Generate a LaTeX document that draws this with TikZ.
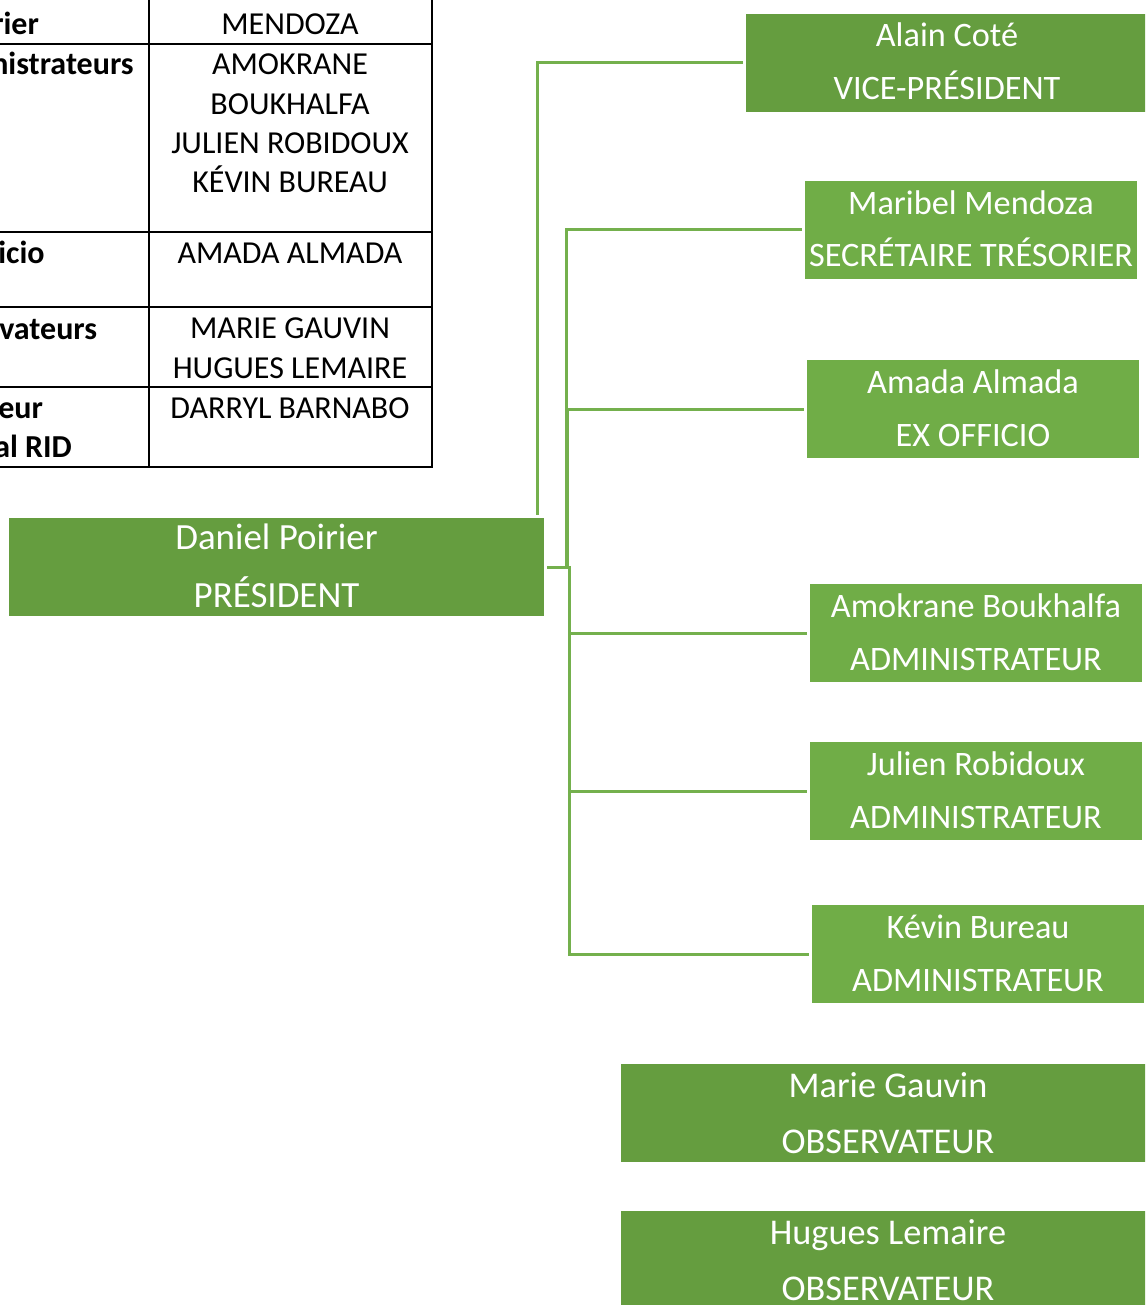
\documentclass[tikz,border=0pt]{standalone}
\usepackage{fontspec}
\setmainfont{Carlito}
\definecolor{boxdark}{RGB}{101,157,63}
\definecolor{boxlight}{RGB}{112,173,71}
\definecolor{linkgreen}{RGB}{116,176,77}
\newcommand{\tabfont}{\fontsize{24}{29.5}\selectfont}
\newcommand{\smallboxfont}{\fontsize{25.7}{39.75}\selectfont}
\newcommand{\bigboxfont}{\fontsize{27.2}{42}\selectfont}
\newcommand{\presfont}{\fontsize{27.7}{43.5}\selectfont}
\tikzset{
  orgbox/.style={fill=#1, text=white, inner sep=0pt, align=center,
    minimum height=73.5pt, text height=63pt, text depth=7.5pt},
  link/.style={draw=linkgreen, line width=2.25pt, shorten <=2.25pt, shorten >=2.25pt},
  tabline/.style={line width=1.5pt},
  cell/.style={font=\tabfont, inner sep=0pt, anchor=base, align=center},
  headcell/.style={font=\tabfont\bfseries, inner sep=0pt, anchor=base west}
}
\begin{document}
\begin{tikzpicture}[x=0.75pt,y=-0.75pt]
  \useasboundingbox (0,0) rectangle (1145,1305);
  \clip (0,0) rectangle (1145,1305);
  %Table of the board
  \draw[tabline] (149,-5) -- (149,467);
  \draw[tabline] (432,-5) -- (432,467);
  \foreach \y in {44,232,307,387,467} {
    \draw[tabline] (-5,\y) -- (433,\y);
  }
  %Left column (cut off at the page edge)
  \node[headcell] (h1) at (-8,35) {rier};
  \node[headcell] (h2) at (-9,75) {nistrateurs};
  \node[headcell] (h3) at (-2,263) {icio};
  \node[headcell] (h4) at (-1,339) {vateurs};
  \node[headcell] (h5) at (-2,418) {eur};
  \node[headcell] (h6) at (-6,457) {al RID};
  %Right column, anchored at the last line
  \node[cell] (c1) at (290,35) {MENDOZA};
  \node[cell] (c2) at (290,193) {AMOKRANE\\BOUKHALFA\\JULIEN ROBIDOUX\\KÉVIN BUREAU};
  \node[cell] (c3) at (290,263) {AMADA ALMADA};
  \node[cell] (c4) at (290,378) {MARIE GAUVIN\\HUGUES LEMAIRE};
  \node[cell] (c5) at (290,418) {DARRYL BARNABO};
  %President
  \node[orgbox=boxdark, minimum width=401.25pt, font=\presfont, text height=66pt, text depth=6pt] (dan) at (276.5,567) {Daniel Poirier\\PRÉSIDENT};
  %Vice-president
  \node[orgbox=boxdark, minimum width=301.5pt, font=\smallboxfont] (ala) at (947,63) {Alain Coté\\VICE-PRÉSIDENT};
  %Members
  \node[orgbox=boxlight, minimum width=249pt, font=\smallboxfont] (mar) at (971,230) {Maribel Mendoza\\SECRÉTAIRE TRÉSORIER};
  \node[orgbox=boxlight, minimum width=249pt, font=\smallboxfont] (ama) at (973,409) {Amada Almada\\EX OFFICIO};
  \node[orgbox=boxlight, minimum width=249pt, font=\smallboxfont] (amo) at (976,633) {Amokrane Boukhalfa\\ADMINISTRATEUR};
  \node[orgbox=boxlight, minimum width=249pt, font=\smallboxfont] (jul) at (976,791) {Julien Robidoux\\ADMINISTRATEUR};
  \node[orgbox=boxlight, minimum width=249pt, font=\smallboxfont] (kev) at (978,954) {Kévin Bureau\\ADMINISTRATEUR};
  %Observers
  \node[orgbox=boxdark, minimum width=400.5pt, font=\bigboxfont, text height=66pt, text depth=6pt] (mgv) at (888,1113) {Marie Gauvin\\OBSERVATEUR};
  \node[orgbox=boxdark, minimum width=401.25pt, font=\bigboxfont, text height=66pt, text depth=6pt] (hug) at (888,1260) {Hugues Lemaire\\OBSERVATEUR};
  %Connectors
  \draw[link] ([xshift=-5.25pt]dan.north east) |- (ala.west);
  \draw[link] (dan.east) -- ++(22,0) |- (mar.west);
  \draw[link] (dan.east) -- ++(23,0) |- (ama.west);
  \draw[link] (dan.east) -- ++(25,0) |- (amo.west);
  \draw[link] (dan.east) -- ++(25,0) |- (jul.west);
  \draw[link] (dan.east) -- ++(25,0) |- (kev.west);
\end{tikzpicture}
\end{document}
